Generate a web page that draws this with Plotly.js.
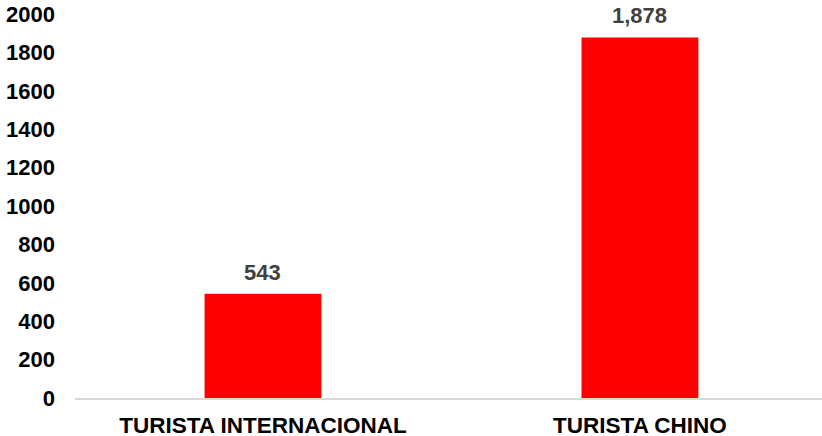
<!DOCTYPE html>
<html>
<head>
<meta charset="utf-8">
<script src="https://cdn.plot.ly/plotly-3.0.1.min.js"></script>
<style>html,body{margin:0;padding:0;background:#fff;}#chart{width:822px;height:436px;}</style>
</head>
<body>
<div id="chart"></div>
<script>
const categories = ["TURISTA INTERNACIONAL", "TURISTA CHINO"];
const values = [543, 1878];
const valueLabels = ["543", "1,878"];
const yTicks = [0, 200, 400, 600, 800, 1000, 1200, 1400, 1600, 1800, 2000];

const fontFam = '"Liberation Sans", Arial, sans-serif';

const trace = {
  type: 'bar',
  x: categories,
  y: values,
  width: 0.31,
  marker: {color: '#ff0000'},
  hoverinfo: 'none'
};

const annotations = categories.map((c, i) => ({
  x: c, y: values[i], text: valueLabels[i],
  showarrow: false, yanchor: 'bottom', yshift: 7,
  font: {family: fontFam, size: 22, color: '#404040', weight: 'bold'}
}));

const layout = {
  width: 822, height: 436,
  margin: {l: 75, r: 0, t: 14, b: 38},
  paper_bgcolor: '#ffffff', plot_bgcolor: '#ffffff',
  showlegend: false,
  font: {family: fontFam, size: 22, color: '#000000', weight: 'bold'},
  xaxis: {
    type: 'category',
    range: [-0.4987, 1.483],
    showgrid: false, zeroline: false,
    showline: true, linecolor: '#d9d9d9', linewidth: 1.5,
    ticks: '', ticklabelstandoff: 6,
    tickfont: {family: fontFam, size: 22.5, color: '#000000', weight: 'bold'}
  },
  yaxis: {
    range: [0, 2000],
    tickvals: yTicks,
    ticktext: yTicks.map(String),
    showgrid: false, zeroline: false, showline: false,
    ticks: '', ticklabelstandoff: 19,
    tickfont: {family: fontFam, size: 22, color: '#000000', weight: 'bold'}
  },
  annotations: annotations
};

Plotly.newPlot('chart', [trace], layout, {displayModeBar: false, staticPlot: true});
</script>
</body>
</html>
